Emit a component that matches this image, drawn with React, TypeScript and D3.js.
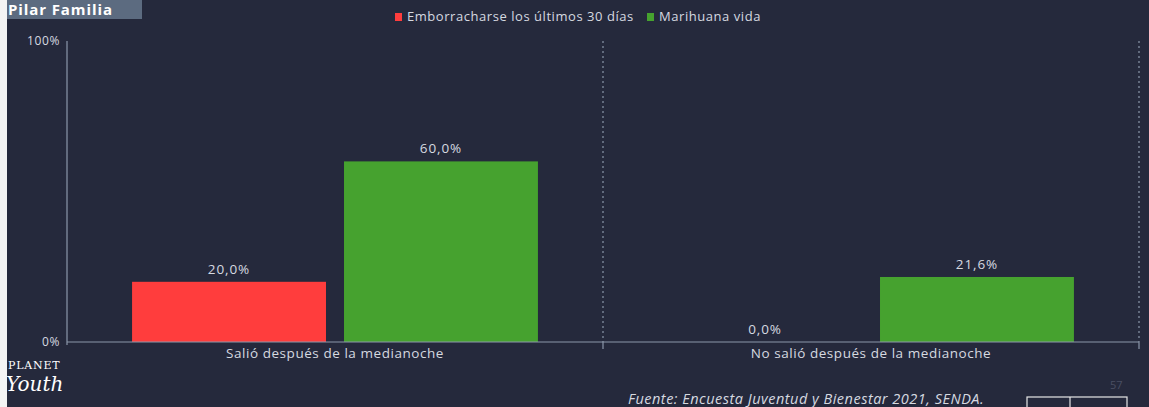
import React from 'react';
import * as d3 from 'd3';

// chart values
const categories = ['Salió después de la medianoche', 'No salió después de la medianoche'];
const seriesNames = ['Emborracharse los últimos 30 días', 'Marihuana vida'];
const emborracharse = [20.0, 0.0];
const marihuana = [60.0, 21.6];
const yTicks = [0, 100];
const seriesColors = ['#ff3d3d', '#46a22f'];

const W = 1149;
const H = 407;
const margin = { top: 41, right: 10, bottom: 65, left: 67 };
const font = '"Open Sans", Lato, sans-serif';

const App = () => {
  const seriesValues = [emborracharse, marihuana];

  const x0 = d3.scaleBand<string>()
    .domain(categories)
    .range([margin.left, W - margin.right]);

  const x1 = d3.scaleBand<string>()
    .domain(seriesNames)
    .range([0, x0.bandwidth()])
    .paddingInner(0.085)
    .paddingOuter(0.307);

  const y = d3.scaleLinear()
    .domain([0, 100])
    .range([H - margin.bottom, margin.top]);

  const fmt = (v: number) => v.toFixed(1).replace('.', ',') + '%';
  const axisColor = '#8b97aa';
  const textColor = '#d6d9e0';

  return (
    <svg width={W} height={H} style={{ position: 'fixed', left: 0, top: 0, display: 'block' }}>
      <rect x={0} y={0} width={W} height={H} fill="#25293c" />
      {/* white strip on left edge of the photo */}
      <rect x={0} y={0} width={7} height={H} fill="#f4f4f4" />

      {/* title tab */}
      <rect x={7} y={0} width={135} height={19} fill="#5c6b80" />
      <text x={8} y={15} fill="#ffffff" fontFamily={font} fontWeight={700} fontSize={15} letterSpacing={0.9}>Pilar Familia</text>

      {/* legend */}
      <g fontFamily={font} fontSize={13} fill={textColor} letterSpacing={0.55}>
        <rect x={395} y={13} width={7} height={8} fill={seriesColors[0]} />
        <text x={407} y={21}>{seriesNames[0]}</text>
        <rect x={647} y={13} width={7} height={8} fill={seriesColors[1]} />
        <text x={659} y={21}>{seriesNames[1]}</text>
      </g>

      {/* dotted category separators */}
      {categories.map((c) => (
        <line key={c} x1={(x0(c) ?? 0) + x0.bandwidth()} x2={(x0(c) ?? 0) + x0.bandwidth()}
          y1={y(100)} y2={y(0)} stroke={axisColor} strokeWidth={1.2} strokeDasharray="2,3" />
      ))}

      {/* y axis */}
      <line x1={margin.left} x2={margin.left} y1={y(100)} y2={y(0) + 3} stroke={axisColor} strokeWidth={1.2} />
      {yTicks.map((t) => (
        <text key={t} x={60} y={y(t) + 4} textAnchor="end" fontFamily={font} fontSize={12}
          letterSpacing={0.6} fill={textColor}>{t}%</text>
      ))}

      {/* bars */}
      {categories.map((c, ci) => (
        <g key={c} transform={`translate(${x0(c)},0)`}>
          {seriesNames.map((s, si) => {
            const v = seriesValues[si][ci];
            const bx = x1(s) ?? 0;
            return (
              <g key={s}>
                <rect x={bx} y={y(v)} width={x1.bandwidth()} height={y(0) - y(v)} fill={seriesColors[si]} />
                <text x={bx + x1.bandwidth() / 2} y={y(v) - 8} textAnchor="middle"
                  fontFamily={font} fontSize={13.5} letterSpacing={0.9} fill={textColor}>{fmt(v)}</text>
              </g>
            );
          })}
        </g>
      ))}

      {/* x axis */}
      <line x1={margin.left} x2={W - margin.right} y1={y(0)} y2={y(0)} stroke={axisColor} strokeWidth={1.2} />
      {categories.map((c) => (
        <line key={c} x1={(x0(c) ?? 0) + x0.bandwidth()} x2={(x0(c) ?? 0) + x0.bandwidth()}
          y1={y(0)} y2={y(0) + 7} stroke={axisColor} strokeWidth={1.2} />
      ))}
      {categories.map((c) => (
        <text key={c} x={(x0(c) ?? 0) + x0.bandwidth() / 2} y={y(0) + 16} textAnchor="middle"
          fontFamily={font} fontSize={13.5} letterSpacing={0.55} fill={textColor}>{c}</text>
      ))}

      {/* logo */}
      <text x={8} y={369} fontFamily='"DejaVu Serif", serif' fontSize={11} letterSpacing={0.8} fill="#ffffff">PLANET</text>
      <text x={6} y={391} fontFamily='"DejaVu Serif", serif' fontStyle="italic" fontSize={20} fill="#ffffff">Youth</text>

      {/* footer */}
      <text x={628} y={404} fontFamily={font} fontStyle="italic" fontSize={14.5} letterSpacing={0.5} fill={textColor}>
        Fuente: Encuesta Juventud y Bienestar 2021, SENDA.
      </text>
      <text x={1110} y={389} fontFamily={font} fontSize={11} fill="#4a4f63">57</text>
      <rect x={1027} y={397} width={100} height={14} fill="none" stroke="#e6e6e6" strokeWidth={1.2} />
      <line x1={1070} x2={1070} y1={397} y2={H} stroke="#e6e6e6" strokeWidth={1.2} />
    </svg>
  );
};

export default App;
